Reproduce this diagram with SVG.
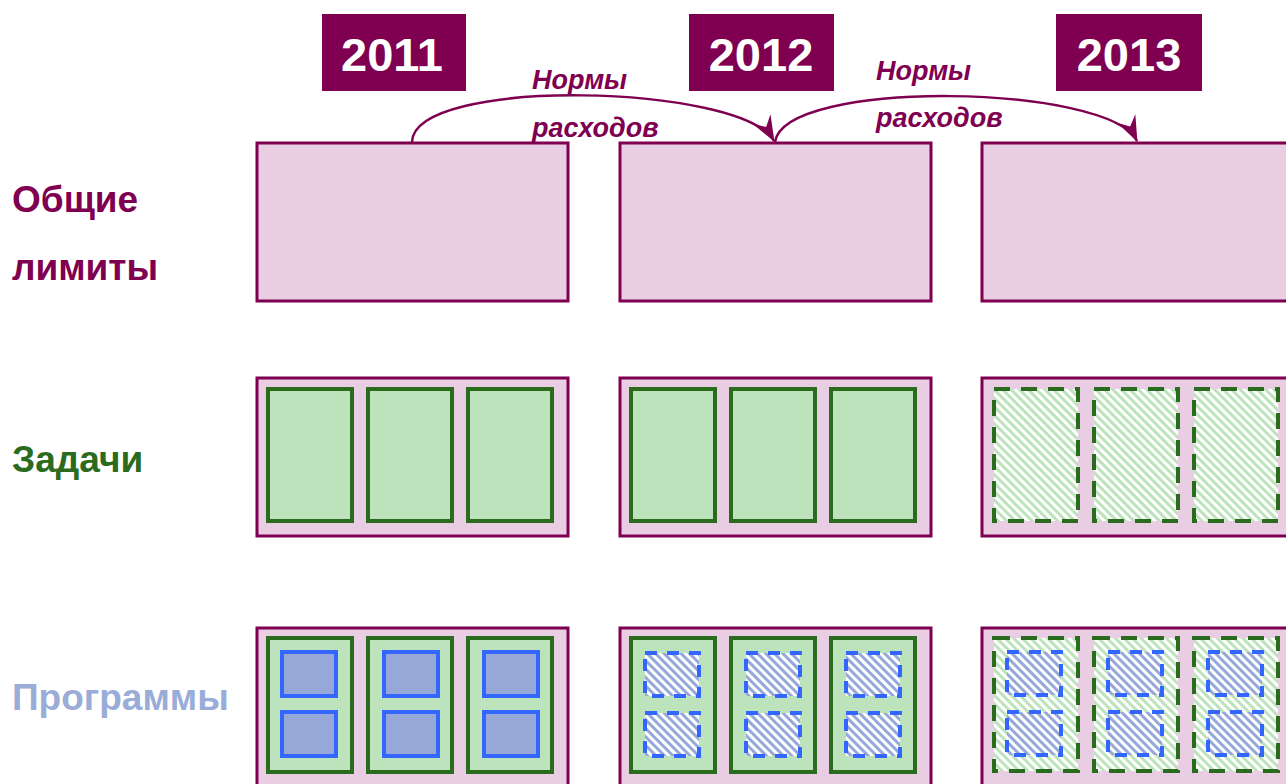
<svg xmlns="http://www.w3.org/2000/svg" width="1286" height="784" viewBox="0 0 1286 784">
<defs>
<pattern id="hg" patternUnits="userSpaceOnUse" width="6" height="6" patternTransform="rotate(-45)">
<rect width="6" height="6" fill="#FFFFFF"/><rect width="3" height="6" fill="#BCE3BC"/>
</pattern>
<pattern id="hb" patternUnits="userSpaceOnUse" width="6" height="6" patternTransform="rotate(-45)">
<rect width="6" height="6" fill="#FFFFFF"/><rect width="3" height="6" fill="#95A8D8"/>
</pattern>
<marker id="ah" viewBox="0 0 26 22" refX="25" refY="11" markerWidth="26" markerHeight="22" markerUnits="userSpaceOnUse" orient="auto">
<path d="M0,1 L26,11 L0,21 L9,11 Z" fill="#7F0050"/>
</marker>
</defs>
<style>
.lim{fill:#E8CDE3;stroke:#7F0050;stroke-width:3}
.yr{fill:#7F0050}
.yt{font-family:"Liberation Sans",Arial,sans-serif;font-weight:bold;font-size:47px;fill:#FFFFFF;text-anchor:middle}
.lbl{font-family:"Liberation Sans",Arial,sans-serif;font-weight:bold;font-size:37px}
.nr{font-family:"Liberation Sans",Arial,sans-serif;font-weight:bold;font-style:italic;font-size:27px;fill:#7F0050}
.g{fill:#BCE3BC;stroke:#2B6B1E;stroke-width:4}
.gd{fill:url(#hg);stroke:#2B6B1E;stroke-width:4;stroke-dasharray:16,11}
.b{fill:#95A8D8;stroke:#3366FF;stroke-width:4}
.bd{fill:url(#hb);stroke:#3366FF;stroke-width:4;stroke-dasharray:12,10}
.con{fill:none;stroke:#7F0050;stroke-width:2.5}
</style>

<g id="labels">
<text class="lbl" x="12" y="212" fill="#7F0050">Общие</text>
<text class="lbl" x="12" y="280" fill="#7F0050">лимиты</text>
<text class="lbl" x="12" y="472" fill="#2B6B1E">Задачи</text>
<text class="lbl" x="12" y="710" fill="#9AACD8">Программы</text>
</g>

<g id="year2011"><rect class="yr" x="322" y="14" width="144" height="77"/><text class="yt" x="392" y="71">2011</text></g>
<g id="year2012"><rect class="yr" x="689" y="14" width="145" height="77"/><text class="yt" x="761" y="71">2012</text></g>
<g id="year2013"><rect class="yr" x="1056" y="14" width="146" height="77"/><text class="yt" x="1129" y="71">2013</text></g>

<g id="limits2011"><rect class="lim" x="257" y="143" width="311" height="158"/></g>
<g id="limits2012"><rect class="lim" x="620" y="143" width="311" height="158"/></g>
<g id="limits2013"><rect class="lim" x="982" y="143" width="310" height="158"/></g>

<g id="tasks2011">
<rect class="lim" x="257" y="378" width="311" height="158"/>
<rect class="g" x="268" y="389" width="84" height="132"/>
<rect class="g" x="368" y="389" width="84" height="132"/>
<rect class="g" x="468" y="389" width="84" height="132"/>
</g>
<g id="tasks2012">
<rect class="lim" x="620" y="378" width="311" height="158"/>
<rect class="g" x="631" y="389" width="84" height="132"/>
<rect class="g" x="731" y="389" width="84" height="132"/>
<rect class="g" x="831" y="389" width="84" height="132"/>
</g>
<g id="tasks2013">
<rect class="lim" x="982" y="378" width="310" height="158"/>
<rect class="gd" x="994" y="389" width="84" height="132"/>
<rect class="gd" x="1094" y="389" width="84" height="132"/>
<rect class="gd" x="1194" y="389" width="84" height="132"/>
</g>

<g id="programs2011">
<rect class="lim" x="257" y="628" width="311" height="170"/>
<rect class="g" x="268" y="638" width="84" height="134"/>
<rect class="g" x="368" y="638" width="84" height="134"/>
<rect class="g" x="468" y="638" width="84" height="134"/>
<rect class="b" x="282" y="652" width="54" height="44"/>
<rect class="b" x="282" y="712" width="54" height="44"/>
<rect class="b" x="384" y="652" width="54" height="44"/>
<rect class="b" x="384" y="712" width="54" height="44"/>
<rect class="b" x="484" y="652" width="54" height="44"/>
<rect class="b" x="484" y="712" width="54" height="44"/>
</g>
<g id="programs2012">
<rect class="lim" x="620" y="628" width="311" height="170"/>
<rect class="g" x="631" y="638" width="84" height="134"/>
<rect class="g" x="731" y="638" width="84" height="134"/>
<rect class="g" x="831" y="638" width="84" height="134"/>
<rect class="bd" x="645" y="653" width="54" height="43"/>
<rect class="bd" x="645" y="713" width="54" height="43"/>
<rect class="bd" x="746" y="653" width="54" height="43"/>
<rect class="bd" x="746" y="713" width="54" height="43"/>
<rect class="bd" x="846" y="653" width="54" height="43"/>
<rect class="bd" x="846" y="713" width="54" height="43"/>
</g>
<g id="programs2013">
<rect class="lim" x="982" y="628" width="310" height="170"/>
<rect class="gd" x="994" y="638" width="84" height="133"/>
<rect class="gd" x="1094" y="638" width="84" height="133"/>
<rect class="gd" x="1194" y="638" width="84" height="133"/>
<rect class="bd" x="1007" y="652" width="54" height="43"/>
<rect class="bd" x="1007" y="712" width="54" height="43"/>
<rect class="bd" x="1108" y="652" width="54" height="43"/>
<rect class="bd" x="1108" y="712" width="54" height="43"/>
<rect class="bd" x="1208" y="652" width="54" height="43"/>
<rect class="bd" x="1208" y="712" width="54" height="43"/>
</g>

<g id="connectors">
<path class="con" d="M412,142 C414,76 742,84 774,141" marker-end="url(#ah)"/>
<path class="con" d="M775,142 C785,78 1110,84 1137,141" marker-end="url(#ah)"/>
<text class="nr" x="532" y="89">Нормы</text>
<text class="nr" x="532" y="137">расходов</text>
<text class="nr" x="876" y="80">Нормы</text>
<text class="nr" x="876" y="127">расходов</text>
</g>
</svg>
